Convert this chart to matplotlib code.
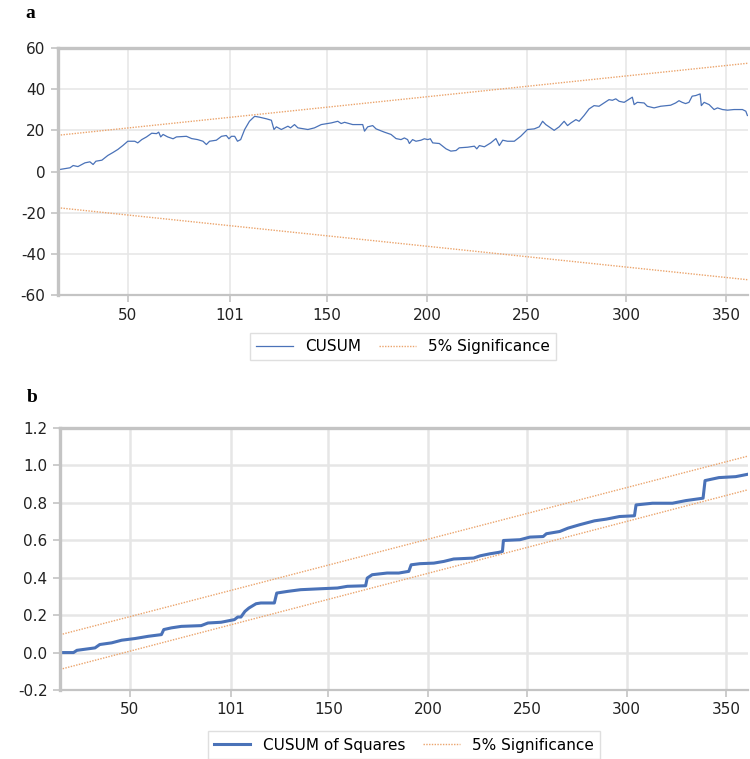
import numpy as np
import matplotlib
matplotlib.use("Agg")
import matplotlib.pyplot as plt

plt.rcParams["font.family"] = ["DejaVu Sans"]
plt.rcParams["axes.unicode_minus"] = False

cusum_x = [16, 21, 22.6, 25, 28.5, 31, 32.6, 34, 37, 40, 42.5, 45, 47.5, 50, 53.5, 55,
           57, 59.4, 62, 64.4, 65.5, 66.5, 67.7, 70, 72.7, 74.4, 79.4, 82, 85, 87.7,
           89.4, 91, 94.4, 97, 99.4, 100.7, 102, 103.6, 105, 106.6, 108.6, 111, 113.6,
           116, 119.5, 122, 123.3, 124.5, 127, 130.3, 131.6, 133.6, 135.3, 140.3, 143.6,
           147, 152, 155.3, 157, 158.7, 162.8, 167.8, 168.7, 170.3, 172.8, 174.5, 178.7,
           182, 184.5, 187, 188.7, 190.3, 191.2, 192.8, 194.5, 197, 198.7, 200.4, 201.7,
           202.9, 206.2, 209.6, 212, 214.6, 216.2, 220.4, 223.8, 225, 226.3, 228.8, 232,
           234.6, 236.3, 238, 240.4, 243.8, 247, 250.4, 253.8, 256.3, 258, 259.6, 263.8,
           266.3, 268.8, 270.5, 272.2, 274.7, 276.3, 278.8, 281.3, 283.8, 286.3, 288.8,
           291.3, 293, 294.7, 296.4, 298.9, 300.5, 303, 303.9, 305.5, 308.9, 310.5, 313.9,
           317.2, 322.2, 324.7, 326.4, 328, 329.7, 331.4, 333, 334.8, 337, 337.6, 339,
           341.5, 344, 345.7, 348.2, 350.7, 354, 358.2, 359.9, 360.7]
cusum_y = [1.0, 1.8, 2.9, 2.4, 4.2, 4.7, 3.4, 5.0, 5.5, 7.8, 9.2, 10.7, 12.6, 14.7, 14.7, 13.9,
           15.5, 16.8, 18.6, 18.4, 19.1, 16.8, 18.0, 16.8, 15.9, 16.8, 17.1, 16.0, 15.5, 14.7,
           13.1, 14.7, 15.2, 17.1, 17.5, 15.9, 17.1, 17.1, 14.7, 15.5, 20.4, 24.4, 26.8,
           26.4, 25.6, 24.9, 20.4, 21.7, 20.4, 22.0, 21.2, 22.8, 21.2, 20.4, 21.2,
           22.8, 23.6, 24.4, 23.3, 23.9, 22.8, 22.8, 19.6, 21.7, 22.3, 20.7, 19.1,
           18.0, 16.0, 15.5, 16.3, 15.5, 13.6, 15.5, 14.7, 15.2, 15.9, 15.5, 15.9,
           13.9, 13.6, 11.0, 9.9, 10.2, 11.5, 11.8, 12.3, 11.0, 12.6, 12.0, 13.9,
           16.0, 12.6, 15.2, 14.7, 14.7, 17.1, 20.4, 20.7, 21.7, 24.4, 22.8, 20.0,
           21.7, 24.4, 22.3, 23.6, 25.2, 24.4, 27.2, 30.4, 32.0, 31.7, 33.3,
           34.9, 34.6, 35.3, 34.1, 33.6, 34.6, 36.1, 32.5, 33.6, 33.3, 31.7, 30.9,
           31.7, 32.2, 33.3, 34.4, 33.6, 33.0, 33.6, 36.6, 36.9, 37.7, 32.0, 33.6,
           32.5, 30.1, 30.9, 30.1, 29.8, 30.1, 30.1, 29.3, 27.2]

# panel a: 5% bands (straight lines, start and end values)
band_a_x = [15, 361]
band_a_upper = [17.6, 52.6]
band_a_lower = [-17.6, -52.6]

# panel b: CUSUM of squares (observation, value)
cusumsq_x = [15, 21.8, 23.5, 32.6, 35, 41, 46, 52.7, 59.4, 66, 67.2, 71, 76, 86, 89.4, 96,
             102.7, 104.4, 106, 108, 110, 113.6, 116, 122.8, 124, 129.5, 136, 146, 154.5,
             159.5, 168.7, 169.5, 172, 179.5, 185.4, 190.4, 191.6, 196, 203, 208, 213,
             223, 226.3, 231.3, 235.4, 237.5, 238, 246.3, 251.3, 258, 259.6, 266.3, 270.5,
             276.3, 283.8, 289.7, 296.4, 303.9, 304.7, 313, 323, 329.7, 338.4, 339.4,
             346.4, 354.8, 361]
cusumsq_y = [0.0, 0.0, 0.012, 0.025, 0.043, 0.052, 0.066, 0.075, 0.087, 0.096, 0.123, 0.132,
             0.14, 0.144, 0.158, 0.162, 0.176, 0.19, 0.19, 0.22, 0.238, 0.261, 0.265, 0.265,
             0.318, 0.327, 0.336, 0.341, 0.345, 0.354, 0.357, 0.398, 0.416, 0.425, 0.425,
             0.434, 0.469, 0.475, 0.478, 0.487, 0.5, 0.505, 0.517, 0.528, 0.535, 0.54,
             0.599, 0.603, 0.617, 0.62, 0.635, 0.647, 0.665, 0.683, 0.704, 0.713, 0.727,
             0.731, 0.789, 0.798, 0.798, 0.812, 0.825, 0.919, 0.935, 0.94, 0.953]

band_b_x = [15, 361]
band_b_upper = [0.095, 1.05]
band_b_lower = [-0.09, 0.87]

xticks = [50, 101, 150, 200, 250, 300, 350]

blue = "#4a72b8"
orange = "#eba46c"
spine_gray = "#c4c4c4"
grid_gray = "#e6e6e6"

fig = plt.figure(figsize=(7.5, 7.59), dpi=100)
ax1 = fig.add_axes([58 / 750, 1 - 295 / 759, 690 / 750, 247 / 759])
ax2 = fig.add_axes([60 / 750, 1 - 690 / 759, 688 / 750, 262 / 759])


def style(ax, grid_lw):
    ax.set_xlim(15, 361)
    ax.set_xticks(xticks)
    ax.grid(True, color=grid_gray, lw=grid_lw)
    ax.set_axisbelow(True)
    for s in ["left", "top"]:
        ax.spines[s].set_color(spine_gray)
        ax.spines[s].set_linewidth(2.4)
    ax.spines["bottom"].set_color(spine_gray)
    ax.spines["bottom"].set_linewidth(1.6)
    ax.spines["right"].set_visible(False)
    ax.tick_params(axis="both", colors=spine_gray, labelcolor="#222222",
                   labelsize=11, length=5, width=1.2, pad=4)


# panel a
ax1.plot(cusum_x, cusum_y, color=blue, lw=0.9, label="CUSUM")
ax1.plot(band_a_x, band_a_upper, color=orange, lw=1.0, ls=(0, (1, 1)), label="5% Significance")
ax1.plot(band_a_x, band_a_lower, color=orange, lw=1.0, ls=(0, (1, 1)))
ax1.set_ylim(-60, 60)
ax1.set_yticks([-60, -40, -20, 0, 20, 40, 60])
style(ax1, 1.1)
leg1 = ax1.legend(loc="center", bbox_to_anchor=(0.5, -0.21), ncol=2, fontsize=11,
                  frameon=True, fancybox=False, edgecolor="#d8d8d8", handlelength=2.4,
                  columnspacing=1.2, borderpad=0.4)
leg1.get_frame().set_linewidth(1.0)

# panel b
ax2.plot(cusumsq_x, cusumsq_y, color=blue, lw=2.2, label="CUSUM of Squares")
ax2.plot(band_b_x, band_b_upper, color=orange, lw=1.0, ls=(0, (1, 1)), label="5% Significance")
ax2.plot(band_b_x, band_b_lower, color=orange, lw=1.0, ls=(0, (1, 1)))
ax2.set_ylim(-0.2, 1.2)
ax2.set_yticks([-0.2, 0.0, 0.2, 0.4, 0.6, 0.8, 1.0, 1.2])
ax2.yaxis.set_major_formatter(matplotlib.ticker.FormatStrFormatter("%.1f"))
style(ax2, 1.8)
leg2 = ax2.legend(loc="center", bbox_to_anchor=(0.5, -0.21), ncol=2, fontsize=11,
                  frameon=True, fancybox=False, edgecolor="#d8d8d8", handlelength=2.4,
                  columnspacing=1.2, borderpad=0.4)
leg2.get_frame().set_linewidth(1.0)

fig.text(30 / 750, 1 - 14 / 759, "a", family="Liberation Serif", weight="bold",
         fontsize=14, ha="center", va="center")
fig.text(32 / 750, 1 - 398 / 759, "b", family="Liberation Serif", weight="bold",
         fontsize=14, ha="center", va="center")

fig.savefig("out.png", dpi=100)
